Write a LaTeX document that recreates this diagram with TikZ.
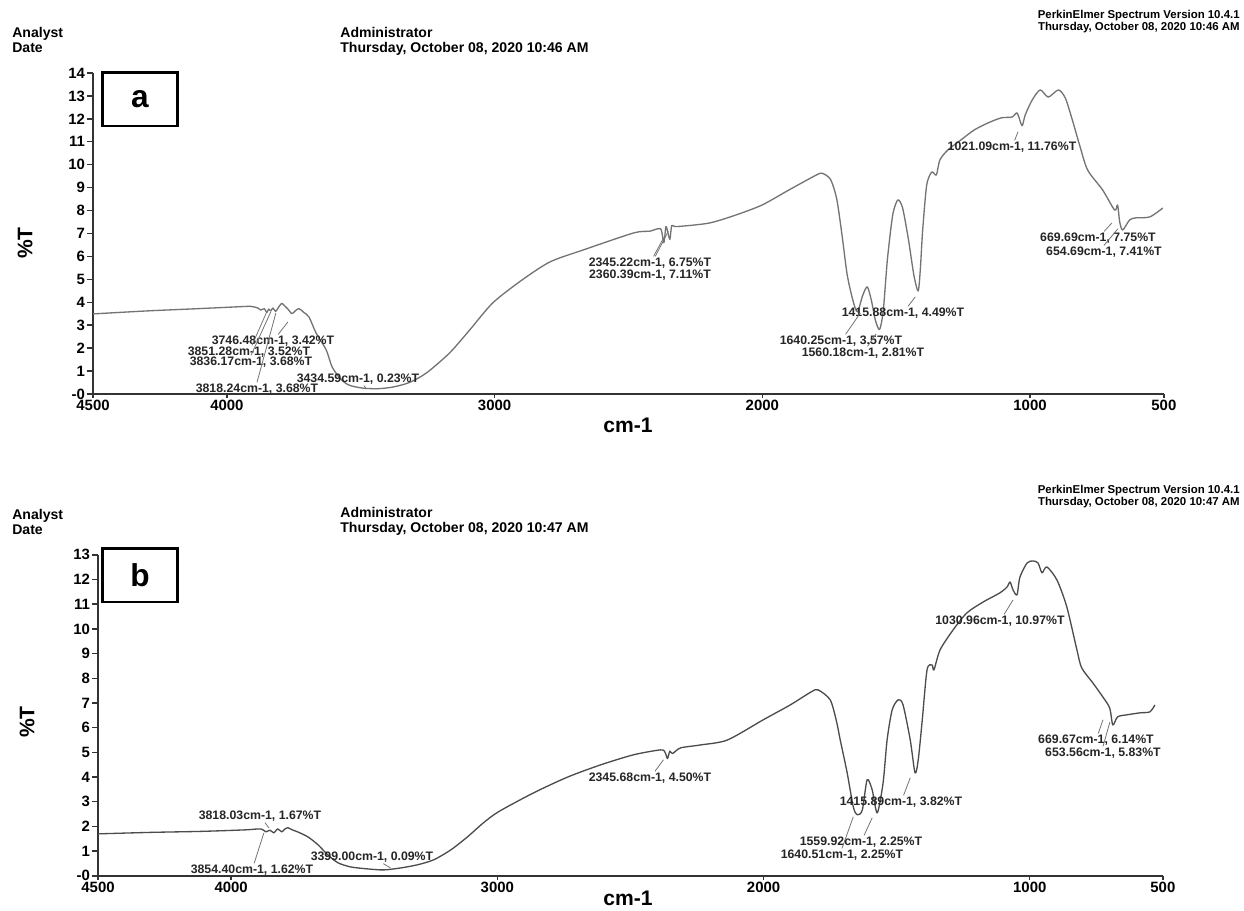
\documentclass[tikz,border=0pt]{standalone}
\usepackage{fontspec}
\setmainfont{Liberation Sans}
\usetikzlibrary{positioning}
\tikzset{spectrum/.style={ % the recorded trace
            draw=black!55,
            line width=0.75pt,
            line join=round},
        axisline/.style={draw=black!80, line width=0.8pt},
        leader/.style={draw=black!55, line width=0.45pt}, % label to band
        peaklabel/.style={font=\bfseries\fontsize{7}{8}\selectfont, text=black!85, inner sep=0.6pt},
        ticklabel/.style={font=\bfseries\fontsize{8.5}{9}\selectfont, inner sep=0.8pt},
        header/.style={font=\bfseries\fontsize{8}{8.6}\selectfont, align=left, anchor=north west, inner sep=0pt},
        software/.style={font=\bfseries\fontsize{6.5}{6.6}\selectfont, align=right, anchor=north east, inner sep=0pt},
        axistitle/.style={font=\bfseries\fontsize{12}{12}\selectfont, inner sep=0pt},
        panel/.style={draw, line width=1.7pt, minimum width=1.5cm, minimum height=1.08cm,
            inner sep=0pt, font=\bfseries\fontsize{18}{18}\selectfont}
        }

\begin{document}
\begin{tikzpicture}[x=0.02cm, y=-0.02cm] % one unit = one pixel of the scan
    \fill[white] (0,0) rectangle (1244,910);
    \useasboundingbox (0,0) rectangle (1244,910);

    % ---------- spectrum a ----------
    \node[header]   (analysta) at (12,27)   {Analyst\\Date};
    \node[header]   (admina)   at (340,27)  {Administrator\\Thursday, October 08, 2020 10:46 AM};
    \node[software] (softa)    at (1240,10) {PerkinElmer Spectrum Version 10.4.1\\Thursday, October 08, 2020 10:46 AM};
    \node[panel]    (boxa)     at (140,99)  {a};
    \node[axistitle, rotate=90] (ta) at (25,243) {\%T};
    \node[axistitle] (ca) at (628,425) {cm-1};

    \begin{scope}[xshift=25.96cm, yshift=-7.88cm, x=-0.00536cm, y=0.4586cm]
        \draw[axisline] (4500,14) -- (4500,0) -- (500,0);
        \foreach \t in {0,...,14}
            \draw[axisline] (4500,\t) -- ++(-0.12cm,0pt)
                node[ticklabel, left] (ya\t) {\ifnum\t=0 -0\else\t\fi};
        \foreach \w in {4500,4000,3000,2000,1000,500}
            \draw[axisline] (\w,0) -- ++(0pt,-0.08cm)
                node[ticklabel, below] (xa\w) {\w};

        \draw[spectrum] plot[smooth, tension=0.45] coordinates {
            (4500,3.49) (4300,3.62) (4106,3.72) (3960,3.8) (3911,3.82) (3885,3.75)
            (3873,3.66) (3860,3.72) (3851,3.55) (3844,3.7) (3836,3.62) (3828,3.75)
            (3818,3.6) (3806,3.8) (3795,3.95) (3785,3.85) (3772,3.7) (3757,3.5)
            (3745,3.62) (3731,3.72) (3712,3.55) (3693,3.35) (3667,2.66) (3629,1.92)
            (3607,1.18) (3575,0.65) (3543,0.38) (3490,0.25) (3434,0.23) (3380,0.3)
            (3318,0.5) (3254,0.92) (3168,1.79) (3093,2.79) (3007,3.97) (2900,4.95)
            (2793,5.76) (2669,6.28) (2481,7.02) (2420,7.1) (2380,7.2) (2368,6.6)
            (2360,7.3) (2352,7.0) (2345,6.75) (2338,7.35) (2320,7.3) (2200,7.45)
            (2100,7.8) (2001,8.24) (1900,8.9) (1798,9.55) (1775,9.62) (1745,9.35)
            (1722,8.5) (1702,6.9) (1683,5.2) (1662,4.1) (1645,3.58) (1625,4.3)
            (1608,4.67) (1593,4.1) (1578,3.23) (1562,2.81) (1548,3.66) (1533,5.84)
            (1513,7.8) (1494,8.46) (1476,8.11) (1454,6.72) (1434,5.19) (1418,4.49)
            (1410,5.4) (1401,7.15) (1386,9.11) (1367,9.68) (1350,9.55) (1337,10.2)
            (1307,10.64) (1258,11.08) (1209,11.51) (1157,11.82) (1108,12.04)
            (1067,12.08) (1048,12.25) (1030,11.7) (1018,12.17) (992,12.82)
            (962,13.26) (932,12.95) (894,13.26) (868,12.9) (842,11.95) (815,10.86)
            (785,9.77) (729,8.9) (684,8.02) (673,8.24) (665,7.5) (654,7.15)
            (628,7.59) (605,7.68) (553,7.72) (504,8.11)};

        % band ends of the leaders
        \coordinate (q3851) at (3851,3.58);
        \coordinate (q3836) at (3836,3.58);
        \coordinate (q3818) at (3817,3.53);
        \coordinate (q3746) at (3772,3.14);
        \coordinate (q3434) at (3481,0.26);
        \coordinate (q2345) at (2369,6.8);
        \coordinate (q2360) at (2351,7.1);
        \coordinate (q1640a) at (1634,3.53);
        \coordinate (q1560a) at (1575,2.62);
        \coordinate (q1415a) at (1429,4.23);
        \coordinate (q1021) at (1045,11.43);
        \coordinate (q669a) at (694,7.46);
        \coordinate (q654a) at (672,7.2);
    \end{scope}

    \node[peaklabel] (l3746)  at (273,341)  {3746.48cm-1, 3.42\%T};
    \node[peaklabel] (l3851)  at (249,352)  {3851.28cm-1, 3.52\%T};
    \node[peaklabel] (l3836)  at (251,362)  {3836.17cm-1, 3.68\%T};
    \node[peaklabel] (l3434)  at (358,379)  {3434.59cm-1, 0.23\%T};
    \node[peaklabel] (l3818)  at (257,389)  {3818.24cm-1, 3.68\%T};
    \node[peaklabel] (l2345)  at (650,263)  {2345.22cm-1, 6.75\%T};
    \node[peaklabel] (l2360)  at (650,275)  {2360.39cm-1, 7.11\%T};
    \node[peaklabel] (l1415a) at (903,313)  {1415.88cm-1, 4.49\%T};
    \node[peaklabel] (l1640a) at (841,341)  {1640.25cm-1, 3.57\%T};
    \node[peaklabel] (l1560a) at (863,353)  {1560.18cm-1, 2.81\%T};
    \node[peaklabel] (l1021)  at (1012,147) {1021.09cm-1, 11.76\%T};
    \node[peaklabel] (l669a)  at (1098,238) {669.69cm-1, 7.75\%T};
    \node[peaklabel] (l654a)  at (1104,252) {654.69cm-1, 7.41\%T};

    \draw[leader] (l3746) -- (q3746);
    \draw[leader] (l3851) -- (q3851);
    \draw[leader] (l3836.north) -- (q3836);
    \draw[leader] (l3818.north) -- (q3818);
    \draw[leader] (l3434) -- (q3434);
    \draw[leader] (l2345) -- (q2345);
    \draw[leader] ([xshift=3pt]l2345.north) -- (q2360);
    \draw[leader] (l1415a) -- (q1415a);
    \draw[leader] (l1640a) -- (q1640a);
    \draw[leader] (l1560a) -- (q1560a);
    \draw[leader] (l1021) -- (q1021);
    \draw[leader] (l669a) -- (q669a);
    \draw[leader] (l654a.north) -- (q654a);

    % ---------- spectrum b ----------
    \node[header]   (analystb) at (12,509)  {Analyst\\Date};
    \node[header]   (adminb)   at (340,507) {Administrator\\Thursday, October 08, 2020 10:47 AM};
    \node[software] (softb)    at (1240,485) {PerkinElmer Spectrum Version 10.4.1\\Thursday, October 08, 2020 10:47 AM};
    \node[panel]    (boxb)     at (140,575) {b};
    \node[axistitle, rotate=90] (tb) at (27,722) {\%T};
    \node[axistitle] (cb) at (628,898) {cm-1};

    \begin{scope}[xshift=25.925cm, yshift=-17.52cm, x=-0.00533cm, y=0.494cm]
        \draw[axisline] (4500,13) -- (4500,0) -- (500,0);
        \foreach \t in {0,...,13}
            \draw[axisline] (4500,\t) -- ++(-0.12cm,0pt)
                node[ticklabel, left] (yb\t) {\ifnum\t=0 -0\else\t\fi};
        \foreach \w in {4500,4000,3000,2000,1000,500}
            \draw[axisline] (\w,0) -- ++(0pt,-0.08cm)
                node[ticklabel, below] (xb\w) {\w};

        \draw[spectrum, draw=black!70] plot[smooth, tension=0.45] coordinates {
            (4500,1.7) (4301,1.76) (4114,1.8) (3950,1.86) (3888,1.9) (3870,1.78)
            (3854,1.85) (3840,1.74) (3825,1.9) (3810,1.78) (3800,1.88) (3787,1.95)
            (3770,1.86) (3750,1.78) (3712,1.58) (3674,1.26) (3637,0.85) (3599,0.53)
            (3551,0.36) (3487,0.28) (3427,0.24) (3363,0.32) (3299,0.45) (3239,0.65)
            (3175,1.05) (3112,1.58) (3052,2.15) (2995,2.6) (2864,3.36) (2736,4.0)
            (2613,4.49) (2489,4.9) (2387,5.1) (2370,5.0) (2361,4.75) (2352,5.05)
            (2342,4.95) (2312,5.18) (2237,5.3) (2136,5.5) (2001,6.32) (1900,6.92)
            (1821,7.45) (1795,7.53) (1750,7.13) (1727,6.3) (1712,5.5) (1686,4.17)
            (1663,2.79) (1648,2.47) (1629,2.67) (1611,3.89) (1592,3.48) (1573,2.55)
            (1551,3.77) (1536,5.5) (1517,6.72) (1494,7.13) (1476,6.92) (1449,5.5)
            (1431,4.17) (1419,4.7) (1404,6.3) (1386,8.34) (1367,8.54) (1360,8.34)
            (1337,9.15) (1288,9.96) (1236,10.65) (1175,11.09) (1112,11.46)
            (1085,11.7) (1074,11.9) (1063,11.58) (1048,11.38) (1037,12.1)
            (1010,12.67) (988,12.75) (969,12.67) (954,12.27) (936,12.51) (898,11.98)
            (861,10.89) (823,9.15) (805,8.42) (763,7.81) (726,7.25) (700,6.8)
            (688,6.11) (670,6.44) (635,6.52) (586,6.6) (549,6.64) (530,6.92)};

        % band ends of the leaders
        \coordinate (q3818b) at (3858,1.94);
        \coordinate (q3854b) at (3877,1.74);
        \coordinate (q3399b) at (3401,0.32);
        \coordinate (q2345b) at (2376,4.7);
        \coordinate (q1640b) at (1663,2.39);
        \coordinate (q1559b) at (1592,2.35);
        \coordinate (q1415b) at (1449,3.97);
        \coordinate (q1030b) at (1063,11.17);
        \coordinate (q669b) at (725,6.32);
        \coordinate (q653b) at (699,6.23);
    \end{scope}

    \node[peaklabel] (l3818b) at (260,816)  {3818.03cm-1, 1.67\%T};
    \node[peaklabel] (l3854b) at (252,870)  {3854.40cm-1, 1.62\%T};
    \node[peaklabel] (l3399b) at (372,857)  {3399.00cm-1, 0.09\%T};
    \node[peaklabel] (l2345b) at (650,778)  {2345.68cm-1, 4.50\%T};
    \node[peaklabel] (l1415b) at (901,802)  {1415.89cm-1, 3.82\%T};
    \node[peaklabel] (l1559b) at (861,842)  {1559.92cm-1, 2.25\%T};
    \node[peaklabel] (l1640b) at (842,855)  {1640.51cm-1, 2.25\%T};
    \node[peaklabel] (l1030b) at (1000,621) {1030.96cm-1, 10.97\%T};
    \node[peaklabel] (l669b)  at (1096,740) {669.67cm-1, 6.14\%T};
    \node[peaklabel] (l653b)  at (1103,753) {653.56cm-1, 5.83\%T};

    \draw[leader] (l3818b) -- (q3818b);
    \draw[leader] (l3854b) -- (q3854b);
    \draw[leader] (l3399b) -- (q3399b);
    \draw[leader] (l2345b) -- (q2345b);
    \draw[leader] (l1415b) -- (q1415b);
    \draw[leader] (l1559b) -- (q1559b);
    \draw[leader] (l1640b.north) -- (q1640b);
    \draw[leader] (l1030b) -- (q1030b);
    \draw[leader] (l669b) -- (q669b);
    \draw[leader] (l653b.north) -- (q653b);
\end{tikzpicture}
\end{document}
